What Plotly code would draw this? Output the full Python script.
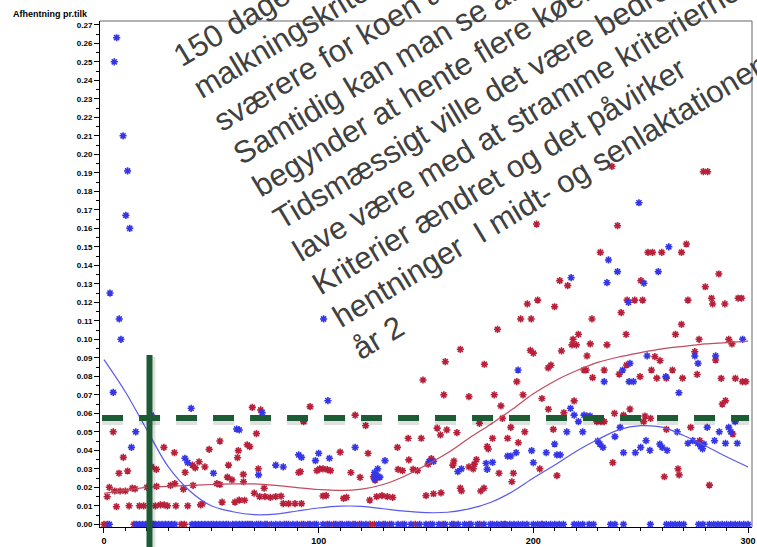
import math
import plotly.graph_objects as go

# ---------------- data ----------------
blue_x = [5.9, 4.8, 8.9, 11, 10.2, 12, 2.8, 7.1, 7.9, 102.3, 4.3, 14.8, 12.8, 22, 40.6, 37.7, 39, 51, 61.8,
          104.3, 73.7, 117, 90.7, 92, 100, 98.5, 105, 80, 83.5, 72, 126, 127.5, 127, 128.5, 126, 130.9,
          151.5, 153.5, 164.8, 166.5, 178, 181, 178.5, 63,
          233, 244.6, 246.6, 267.8, 217.3, 219, 223.6, 226.4, 221, 215.6, 223, 209.9, 199.2, 192, 189.5,
          188, 200, 206, 211, 212.5, 230, 231, 232.4, 238, 240.4, 242, 247.5, 250, 252.5, 254.3, 258.9,
          260, 262.3, 267, 272, 274.3, 276.6, 278, 279.5, 278.8, 281, 284.4, 286.6, 289.5, 291, 292, 294, 295,
          249.2, 263.1, 235, 239.2, 258.2, 217.6, 234.3, 251.5, 244.3, 192.9, 245, 241.6, 253, 275.2,
          276.7, 284.9, 297.5, 261.7]
blue_y = [0.263, 0.250, 0.210, 0.191, 0.167, 0.160, 0.125, 0.111, 0.100, 0.111, 0.0713, 0.050, 0.0416, 0.059,
          0.0627, 0.0357, 0.0333, 0.0276, 0.0515,
          0.0668, 0.0603, 0.0416, 0.0375, 0.0362, 0.0384, 0.0344, 0.0357, 0.032, 0.031, 0.0267, 0.028, 0.030,
          0.0265, 0.0255, 0.0245, 0.0344,
          0.034, 0.034, 0.0285, 0.030, 0.033, 0.0335, 0.0297, 0.051,
          0.0771, 0.0771, 0.0771, 0.0711, 0.0627, 0.059, 0.059, 0.0585, 0.0555, 0.050, 0.050, 0.0434, 0.0398,
          0.0387, 0.0369, 0.0369, 0.0333, 0.0387, 0.0375, 0.0375, 0.045, 0.0434, 0.0416, 0.0474, 0.0524,
          0.0387, 0.0387, 0.0416, 0.0452, 0.040, 0.0434, 0.0416, 0.040, 0.050, 0.0438, 0.0452, 0.0438, 0.042,
          0.0434, 0.0408, 0.0524, 0.0452, 0.050, 0.0438, 0.0524, 0.050, 0.0555, 0.0438,
          0.1738, 0.150, 0.1429, 0.1366, 0.1366, 0.1333, 0.1306, 0.1303, 0.120, 0.0834, 0.087, 0.0834, 0.091,
          0.091, 0.087, 0.091, 0.100, 0.0798]

red_x = [4.3, 9, 7, 11, 2.5, 1.5, 5.8, 5, 7.5, 10, 13.2, 14.5, 20, 24.5, 31, 33, 37, 41.5, 52.6, 54, 65,
         11.7, 16.5, 18.5, 24, 26.3, 28, 29.6, 33.5, 39, 45, 45.8, 55, 61, 65.5,
         24.4, 22.2, 27.9, 32.8, 37.8, 41.2, 42.5, 44.3, 47, 49, 54, 58, 57.5, 59.6, 62.6, 62.2, 66.7, 64.9,
         69.1, 73, 96, 148.6, 158.3, 170, 181.8, 117, 93, 121.9, 71, 67.9, 71.9, 90.7, 91.5, 99.2, 100.5,
         102, 104, 105.5, 110, 115, 119.3, 123, 125.5, 126.3, 136.7, 137, 139, 141.7, 142, 147.8, 144, 146,
         152.5, 151, 155.2, 156.7, 159.7, 164.4, 162.5, 163, 170, 172, 172.5, 173.5, 174.9, 179, 178.5,
         181, 184, 185.6,
         70, 63, 72.5, 75, 77.5, 80, 82.5, 74.6, 83.5, 86, 89, 92, 102, 103.5, 111.6, 113, 123.8, 127, 129.5,
         132, 134.5, 150, 153.5, 157, 166, 166.5, 175.5, 177,
         192.3, 195.2, 204, 184.9, 207, 219, 214.2, 189.5, 196, 209.3, 188, 193, 190.7, 190, 203, 211, 225,
         229.6, 231.5, 233, 237.8, 242, 245, 252, 251.4, 254.6, 237, 262, 267.4, 267.9, 261, 273.3, 277.5,
         282, 288, 289.5, 292.9, 297.4, 299,
         236.6, 279.2, 281.2, 201.5, 239.2, 271.3, 231.2, 253.4, 255.5, 259.8, 269, 286.4, 280.1, 283, 295.4,
         297, 283.5, 289.2, 272, 250.1, 212.3, 216, 197.2, 202, 209.9, 243.7, 247.2, 250.9, 240.9, 194.1,
         199, 227.3, 183.3, 269, 221, 243.2, 266.2, 218.5, 218, 220, 226.5, 234.3, 198.6, 200, 213.1, 225,
         177.2, 206.9, 208.2, 223.6, 224.6, 227.6, 233, 240, 243.4, 255, 256.6, 259, 264.8, 262, 269.5,
         257.5, 275.2, 276.3, 277.2, 284.9, 287.5, 291, 292.5, 294.1, 166, 159, 249.7]
red_y = [0.050, 0.0362, 0.0276, 0.0288, 0.020, 0.0149, 0.0095, 0.018, 0.018, 0.018, 0.0195, 0.0192, 0.020,
         0.0205, 0.021, 0.022, 0.019, 0.021, 0.022, 0.0215, 0.023,
         0.010, 0.010, 0.010, 0.010, 0.0105, 0.0105, 0.010, 0.010, 0.010, 0.0105, 0.011, 0.012, 0.012, 0.013,
         0.0297, 0.031, 0.0416, 0.0387, 0.0281, 0.032, 0.0305, 0.0338, 0.031, 0.0405, 0.045, 0.032, 0.0255,
         0.024, 0.0398, 0.036, 0.043, 0.027,
         0.0632, 0.0618, 0.0636, 0.078, 0.070, 0.069, 0.070, 0.059, 0.0555, 0.0533, 0.049, 0.042, 0.030,
         0.028, 0.0285, 0.029, 0.030, 0.030, 0.0295, 0.029, 0.039, 0.028, 0.0254, 0.0384, 0.0257, 0.0239,
         0.0416, 0.0297, 0.029, 0.0465, 0.0348, 0.0465, 0.0297, 0.029, 0.0355, 0.0325, 0.052, 0.0483, 0.051,
         0.0495, 0.032, 0.0342, 0.031, 0.030, 0.0325, 0.035, 0.0546, 0.0407, 0.042, 0.0465, 0.0276, 0.0573,
         0.0168, 0.0131, 0.015, 0.015, 0.0145, 0.015, 0.0152, 0.0195, 0.0112, 0.0112, 0.0112, 0.0112, 0.0153,
         0.0155, 0.014, 0.0145, 0.0131, 0.015, 0.0155, 0.015, 0.0145, 0.0155, 0.0165, 0.017, 0.0195, 0.018,
         0.018, 0.0195,
         0.0771, 0.070, 0.068, 0.064, 0.0622, 0.0667, 0.0603, 0.0524, 0.050, 0.0513, 0.0465, 0.0441, 0.0276,
         0.023, 0.030, 0.0263, 0.0585, 0.0555, 0.0555, 0.0555, 0.060, 0.059, 0.0623, 0.0585, 0.0555, 0.0573,
         0.0333, 0.0513, 0.030, 0.0267, 0.0257, 0.0524, 0.0452, 0.0212, 0.065, 0.0668, 0.0488, 0.0771, 0.0771,
         0.1935, 0.1906, 0.1906, 0.1623, 0.1614, 0.1515, 0.147, 0.147, 0.147, 0.147, 0.147, 0.1353, 0.1284,
         0.1222, 0.1222, 0.1222, 0.1191, 0.1191, 0.1212, 0.1317, 0.1317, 0.129, 0.1191, 0.1212, 0.1176,
         0.1212, 0.1212, 0.1212, 0.1144, 0.111, 0.111, 0.111, 0.1054, 0.1081, 0.1027, 0.1027, 0.1027, 0.100,
         0.097, 0.097, 0.0975, 0.097, 0.094, 0.0925, 0.0937, 0.091, 0.0865, 0.0845, 0.086, 0.0834, 0.0834,
         0.0793, 0.0834, 0.0812, 0.0861, 0.0834, 0.0906, 0.0885, 0.0834, 0.079, 0.079, 0.079, 0.0933, 0.081,
         0.100, 0.0888, 0.0789, 0.100, 0.0975, 0.0789, 0.0946, 0.0879, 0.0798]

blue_zero_x = [2.5, 15, 16.5, 18, 19.5, 21, 22.5, 24, 25.5, 27, 28.5, 30, 31.5, 33, 41, 42.5, 44, 45.5, 47,
               48.5, 51, 52.5, 54, 55.5, 57, 60, 61.5, 63, 64.5, 67, 69, 71, 73, 75, 78, 80, 82, 85, 88, 90,
               93, 96, 99, 102, 105, 108, 111, 114, 117, 120, 122, 128, 131, 134, 137, 140, 143, 147, 150,
               153, 156, 159, 162, 165, 168, 171, 174, 177, 180, 183, 185, 187, 189, 191, 193, 195, 197, 200,
               202, 204, 206, 208, 210, 212, 214, 219, 221, 223, 226, 228, 236, 238, 242, 254.5, 262, 264,
               266, 268, 270, 277, 279, 282, 284, 286, 288, 290, 292, 294, 296, 298, 300]
red_zero_x = [0, 1.5, 14, 21, 23, 36, 37.5, 50, 58, 66, 68, 72, 76, 84, 86, 92, 95, 98, 104, 107, 110, 113,
              116, 119, 124, 126, 130, 133, 139, 145, 152, 158, 163, 170, 175, 181, 186.5, 204]

curve_x = [0, 10, 20, 30, 40, 50, 60, 70, 80, 90, 100, 110, 120, 130, 140, 150, 160, 170, 180, 190, 200,
           210, 220, 230, 240, 250, 260, 270, 280, 290, 300]
red_curve = [0.0168, 0.0185, 0.020, 0.0205, 0.021, 0.0215, 0.0218, 0.0218, 0.021, 0.0198, 0.0188, 0.0183,
             0.019, 0.0215, 0.026, 0.032, 0.0385, 0.0465, 0.054, 0.062, 0.0705, 0.0775, 0.083, 0.0875,
             0.0905, 0.0928, 0.0948, 0.0962, 0.0975, 0.0982, 0.099]
blue_curve = [0.089, 0.0715, 0.051, 0.031, 0.018, 0.010, 0.0068, 0.0052, 0.0055, 0.0072, 0.0088, 0.0098,
              0.0097, 0.0084, 0.0071, 0.0063, 0.0065, 0.0083, 0.0118, 0.0175, 0.025, 0.032, 0.0395, 0.0458,
              0.0512, 0.0533, 0.0525, 0.048, 0.0425, 0.0365, 0.031]

threshold_y = 0.0575
threshold_x = 21.2

y_title = "Afhentning pr.tilk"
note_lines = [
    "150 dage efter kælvning skærpes",
    "malkningskriteriet, så det bliver",
    "sværere for koen at blive malket.",
    "Samtidig kan man se at man",
    "begynder at hente flere køer.",
    "Tidsmæssigt ville det være bedre at",
    "lave være med at stramme kriterierne.",
    "Kriterier ændret og det påvirker",
    "hentninger  I midt- og senlaktationen",
    "år 2",
]

# ---------------- figure ----------------
W, H = 757, 547
L, R, T, B = 100, 1, 21, 20
PW, PH = W - L - R, H - T - B

RED = "#b8203a"
BLUE = "#3535e8"
GREEN = "#1d5b34"

def px2paper(px, py):
    return (px - L) / PW, (H - B - py) / PH

def star(color):
    return dict(symbol="asterisk-open", size=6, color=color, line=dict(color=color, width=1.6))

fig = go.Figure()
fig.add_trace(go.Scatter(x=red_zero_x, y=[0] * len(red_zero_x), mode="markers",
                         marker=star(RED), showlegend=False))
fig.add_trace(go.Scatter(x=blue_zero_x, y=[0] * len(blue_zero_x), mode="markers",
                         marker=star(BLUE), showlegend=False))
fig.add_trace(go.Scatter(x=red_x, y=red_y, mode="markers", marker=star(RED), showlegend=False))
fig.add_trace(go.Scatter(x=blue_x, y=blue_y, mode="markers", marker=star(BLUE), showlegend=False))
fig.add_trace(go.Scatter(x=curve_x, y=red_curve, mode="lines",
                         line=dict(color="#c44a5c", width=1.2, shape="spline"), showlegend=False))
fig.add_trace(go.Scatter(x=curve_x, y=blue_curve, mode="lines",
                         line=dict(color="#5a5af0", width=1.2, shape="spline"), showlegend=False))

shapes = []
vy0 = px2paper(0, 547)[1]
vy1 = px2paper(0, 355)[1]
# soft shadows
shapes.append(dict(type="line", xref="x", yref="y", x0=-0.9, x1=300.5, y0=threshold_y - 0.0022,
                   y1=threshold_y - 0.0022, line=dict(color="rgba(0,0,0,0.12)", width=6, dash="21px,16px")))
shapes.append(dict(type="line", xref="x", yref="paper", x0=threshold_x + 1.6, x1=threshold_x + 1.6,
                   y0=vy0, y1=vy1 - 0.004, line=dict(color="rgba(0,0,0,0.12)", width=5)))
shapes.append(dict(type="line", xref="x", yref="y", x0=-0.9, x1=300.5, y0=threshold_y, y1=threshold_y,
                   line=dict(color=GREEN, width=6, dash="21px,16px")))
shapes.append(dict(type="line", xref="x", yref="paper", x0=threshold_x, x1=threshold_x, y0=vy0, y1=vy1,
                   line=dict(color=GREEN, width=6)))
# frame (top/right grey)
shapes.append(dict(type="line", xref="paper", yref="paper", x0=0, x1=1, y0=1, y1=1,
                   line=dict(color="#666666", width=1)))
shapes.append(dict(type="line", xref="paper", yref="paper", x0=1, x1=1, y0=0, y1=1,
                   line=dict(color="#666666", width=1)))

annotations = []
yt_x, yt_y = px2paper(10, 14)
annotations.append(dict(text=y_title, xref="paper", yref="paper", x=yt_x, y=yt_y, xanchor="left",
                        yanchor="middle", showarrow=False,
                        font=dict(family="Liberation Sans", size=9, color="black", weight="bold")))

ang = 31.0
fs = 31
a = math.radians(ang)
nx, ny = -math.sin(a), -math.cos(a)
for k, line in enumerate(note_lines):
    bx = 182 + 20.0 * k
    by = 67 + 32.6 * k
    cx = bx + 0.33 * fs * nx
    cy = by + 0.33 * fs * ny
    px_, py_ = px2paper(cx, cy)
    annotations.append(dict(
        text="<span style='color:rgba(0,0,0,0)'>" + line + "</span>" + line,
        xref="paper", yref="paper", x=px_, y=py_, xanchor="center", yanchor="middle",
        textangle=-ang, showarrow=False,
        font=dict(family="Liberation Sans", size=fs, color="#404040")))

fig.update_layout(
    width=W, height=H, margin=dict(l=L, r=R, t=T, b=B),
    paper_bgcolor="white", plot_bgcolor="white",
    shapes=shapes, annotations=annotations,
    xaxis=dict(range=[-1.852, 301.85], tickvals=[0, 100, 200, 300], ticks="outside", ticklen=5,
               tickcolor="black", showline=True, linecolor="black", linewidth=1, showgrid=False,
               zeroline=False, ticklabeloverflow="allow",
               tickfont=dict(family="Liberation Sans", size=9, color="black", weight="bold"),
               minor=dict(dtick=10, ticks="outside", ticklen=3, tickcolor="black")),
    yaxis=dict(range=[-0.00146, 0.27205], dtick=0.01, tick0=0, tickformat=".2f", ticks="outside",
               ticklen=5, tickcolor="black", showline=True, linecolor="black", linewidth=1,
               showgrid=False, zeroline=False,
               tickfont=dict(family="Liberation Sans", size=8, color="black", weight="bold"),
               minor=dict(dtick=0.005, ticks="outside", ticklen=3, tickcolor="black")),
)

fig.write_html("out.html", config={"displayModeBar": False},
               post_script="document.body.style.margin='0px';")
